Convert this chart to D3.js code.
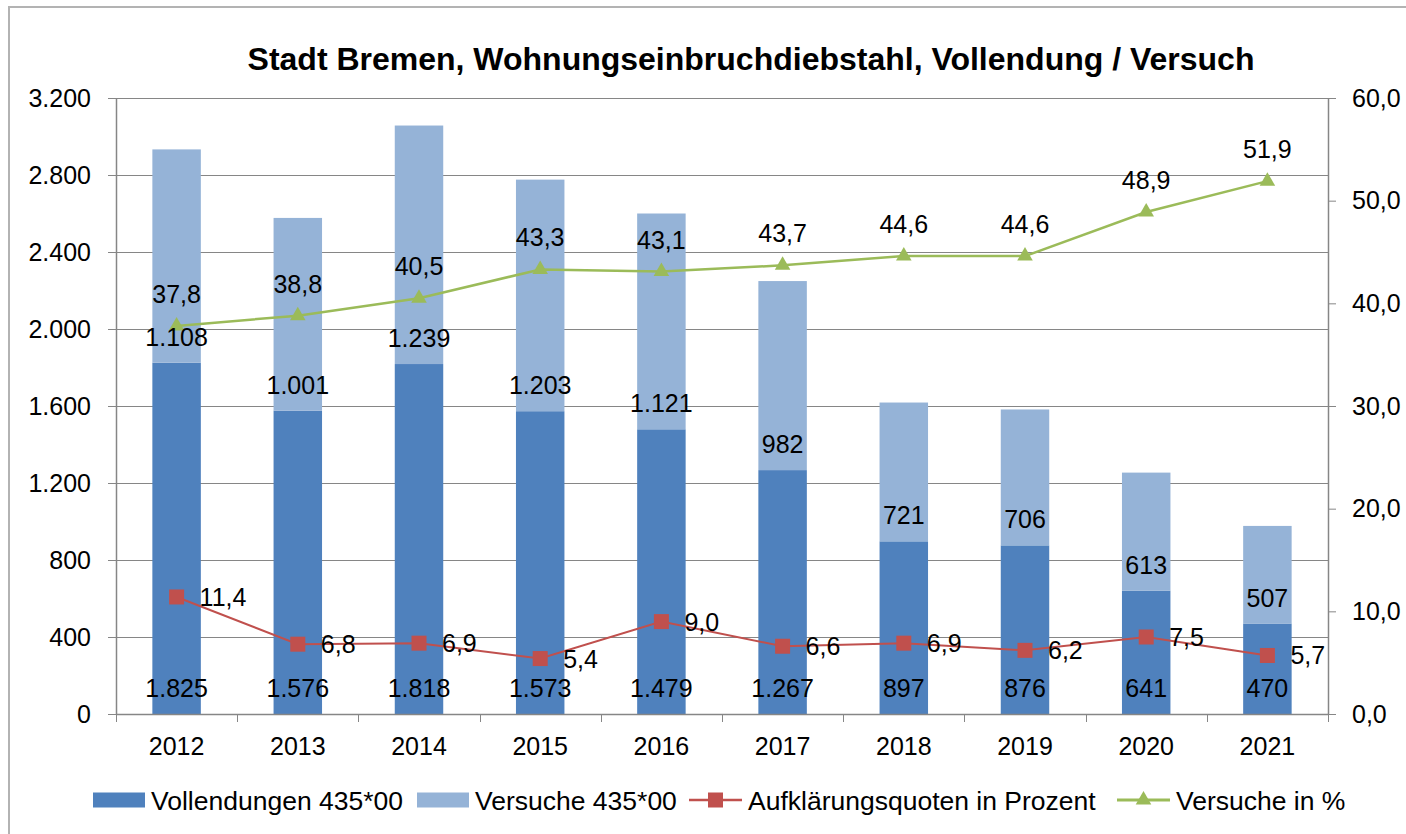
<!DOCTYPE html>
<html>
<head>
<meta charset="utf-8">
<script src="https://cdn.jsdelivr.net/npm/d3@7"></script>
<style>
  body { margin: 0; background: #fff; }
  svg { font-family: "Liberation Sans", Arial, sans-serif; }
  .axis path, .axis line { stroke: #868686; }
  .axis text { font-size: 25px; fill: #000; }
  .grid line { stroke: #868686; stroke-width: 1; }
  .lbl { font-size: 25px; fill: #000; }
</style>
</head>
<body>
<div id="chart"></div>
<script>
var years = ["2012", "2013", "2014", "2015", "2016", "2017", "2018", "2019", "2020", "2021"];
var vollendungen = [1825, 1576, 1818, 1573, 1479, 1267, 897, 876, 641, 470];
var versuche = [1108, 1001, 1239, 1203, 1121, 982, 721, 706, 613, 507];
var aufklaerung = [11.4, 6.8, 6.9, 5.4, 9.0, 6.6, 6.9, 6.2, 7.5, 5.7];
var versucheProzent = [37.8, 38.8, 40.5, 43.3, 43.1, 43.7, 44.6, 44.6, 48.9, 51.9];
var leftTicks = [0, 400, 800, 1200, 1600, 2000, 2400, 2800, 3200];
var rightTicks = [0, 10, 20, 30, 40, 50, 60];
var legendNames = ["Vollendungen 435*00", "Versuche 435*00", "Aufklärungsquoten in Prozent", "Versuche in %"];

var width = 1406, height = 834;
var plotLeft = 116, plotRight = 1328, plotTop = 98, plotBottom = 714;
var colDark = "#4f81bd", colLight = "#95b3d7", colRed = "#c0504d", colGreen = "#9bbb59";

var de = d3.formatLocale({ decimal: ",", thousands: ".", grouping: [3], currency: ["", " €"] });
var fmtInt = de.format(",.0f"), fmtDec = de.format(",.1f");

var svg = d3.select("#chart").append("svg")
    .attr("width", width)
    .attr("height", height);

// chart frame (cropped at right / bottom)
svg.append("rect")
    .attr("x", 9).attr("y", 7)
    .attr("width", 1420).attr("height", 860)
    .attr("fill", "none")
    .attr("stroke", "#b3b3b3")
    .attr("stroke-width", 2);

svg.append("text")
    .attr("x", 751).attr("y", 70)
    .attr("text-anchor", "middle")
    .style("font-size", "32px")
    .style("font-weight", "bold")
    .text("Stadt Bremen, Wohnungseinbruchdiebstahl, Vollendung / Versuch");

var x = d3.scaleBand()
    .domain(years)
    .range([plotLeft, plotRight])
    .paddingInner(0.6)
    .paddingOuter(0.3);

var yL = d3.scaleLinear().domain([0, 3200]).range([plotBottom, plotTop]);
var yR = d3.scaleLinear().domain([0, 60]).range([plotBottom, plotTop]);

// gridlines
svg.append("g")
    .attr("class", "grid")
  .selectAll("line")
    .data(leftTicks.slice(1))
  .enter().append("line")
    .attr("x1", plotLeft).attr("x2", plotRight)
    .attr("y1", function(d) { return Math.round(yL(d)) + 0.5; })
    .attr("y2", function(d) { return Math.round(yL(d)) + 0.5; });

// stacked bars
var rows = years.map(function(y, i) {
  return { year: y, voll: vollendungen[i], vers: versuche[i] };
});
var stacked = d3.stack().keys(["voll", "vers"])(rows);
var colors = { voll: colDark, vers: colLight };

svg.append("g").selectAll("g")
    .data(stacked)
  .enter().append("g")
    .attr("fill", function(d) { return colors[d.key]; })
  .selectAll("rect")
    .data(function(d) { return d; })
  .enter().append("rect")
    .attr("x", function(d) { return x(d.data.year); })
    .attr("width", x.bandwidth())
    .attr("y", function(d) { return yL(d[1]); })
    .attr("height", function(d) { return yL(d[0]) - yL(d[1]); });

// axes
svg.append("g")
    .attr("class", "axis")
    .attr("transform", "translate(" + plotLeft + ",0)")
    .call(d3.axisLeft(yL).tickValues(leftTicks).tickSize(8).tickPadding(17).tickSizeOuter(0).tickFormat(fmtInt));

svg.append("g")
    .attr("class", "axis")
    .attr("transform", "translate(" + plotRight + ",0)")
    .call(d3.axisRight(yR).tickValues(rightTicks).tickSize(8).tickPadding(16).tickSizeOuter(0).tickFormat(fmtDec));

var axB = svg.append("g")
    .attr("class", "axis")
    .attr("transform", "translate(0," + plotBottom + ")")
    .call(d3.axisBottom(x).tickSize(0).tickPadding(23).tickSizeOuter(0));
axB.selectAll(".tick line").remove();

var half = (x.step() - x.bandwidth()) / 2;
var bounds = years.map(function(y) { return x(y) - half; }).concat([plotRight]);
axB.selectAll(".bound")
    .data(bounds)
  .enter().append("line")
    .attr("x1", function(d) { return Math.round(d) + 0.5; })
    .attr("x2", function(d) { return Math.round(d) + 0.5; })
    .attr("y1", 0).attr("y2", 8)
    .attr("stroke", "#868686");

svg.selectAll(".axis .domain").attr("stroke-width", 1.5);

// lines
function cx(d, i) { return x(years[i]) + x.bandwidth() / 2; }

var lineRed = d3.line().x(cx).y(function(d) { return yR(d); });
svg.append("path")
    .datum(aufklaerung)
    .attr("d", lineRed)
    .attr("fill", "none")
    .attr("stroke", colRed)
    .attr("stroke-width", 2);

svg.append("g").selectAll("rect")
    .data(aufklaerung)
  .enter().append("rect")
    .attr("x", function(d, i) { return cx(d, i) - 7.5; })
    .attr("y", function(d) { return yR(d) - 7.5; })
    .attr("width", 15).attr("height", 15)
    .attr("fill", colRed);

var lineGreen = d3.line().x(cx).y(function(d) { return yR(d); });
svg.append("path")
    .datum(versucheProzent)
    .attr("d", lineGreen)
    .attr("fill", "none")
    .attr("stroke", colGreen)
    .attr("stroke-width", 2.5);

var tri = d3.symbol().type(d3.symbolTriangle).size(105);
svg.append("g").selectAll("path")
    .data(versucheProzent)
  .enter().append("path")
    .attr("d", tri)
    .attr("transform", function(d, i) { return "translate(" + cx(d, i) + "," + yR(d) + ")"; })
    .attr("fill", colGreen);

// data labels
svg.append("g").selectAll("text")
    .data(vollendungen)
  .enter().append("text")
    .attr("class", "lbl")
    .attr("text-anchor", "middle")
    .attr("x", cx)
    .attr("y", function(d) { return yL(0) - 17; })
    .text(fmtInt);

svg.append("g").selectAll("text")
    .data(versuche)
  .enter().append("text")
    .attr("class", "lbl")
    .attr("text-anchor", "middle")
    .attr("x", cx)
    .attr("y", function(d, i) { return yL(vollendungen[i]) - 17; })
    .text(fmtInt);

svg.append("g").selectAll("text")
    .data(versucheProzent)
  .enter().append("text")
    .attr("class", "lbl")
    .attr("text-anchor", "middle")
    .attr("x", cx)
    .attr("y", function(d) { return yR(d) - 23; })
    .text(fmtDec);

svg.append("g").selectAll("text")
    .data(aufklaerung)
  .enter().append("text")
    .attr("class", "lbl")
    .attr("x", function(d, i) { return cx(d, i) + 23; })
    .attr("y", function(d) { return yR(d); })
    .attr("dy", "0.36em")
    .text(fmtDec);

// legend
var legend = svg.append("g").attr("class", "legend");
var legendX = [93, 417, 689, 1117], ly = 800;
legendNames.forEach(function(name, i) {
  var lx = legendX[i];
  var g = legend.append("g");
  if (i < 2) {
    g.append("rect")
      .attr("x", lx).attr("y", ly - 7.5)
      .attr("width", 52).attr("height", 15)
      .attr("fill", i === 0 ? colDark : colLight);
  } else {
    var c = i === 2 ? colRed : colGreen;
    g.append("line")
      .attr("x1", lx).attr("x2", lx + 53)
      .attr("y1", ly).attr("y2", ly)
      .attr("stroke", c)
      .attr("stroke-width", i === 2 ? 2.5 : 3);
    if (i === 2) {
      g.append("rect")
        .attr("x", lx + 26.5 - 7.5).attr("y", ly - 7.5)
        .attr("width", 15).attr("height", 15)
        .attr("fill", c);
    } else {
      g.append("path")
        .attr("d", tri)
        .attr("transform", "translate(" + (lx + 26.5) + "," + ly + ")")
        .attr("fill", c);
    }
  }
  g.append("text")
    .attr("class", "lbl")
    .attr("x", lx + (i < 2 ? 58 : 59))
    .attr("y", ly)
    .attr("dy", "0.36em")
    .style("font-size", "26.5px")
    .text(name);
});
</script>
</body>
</html>
